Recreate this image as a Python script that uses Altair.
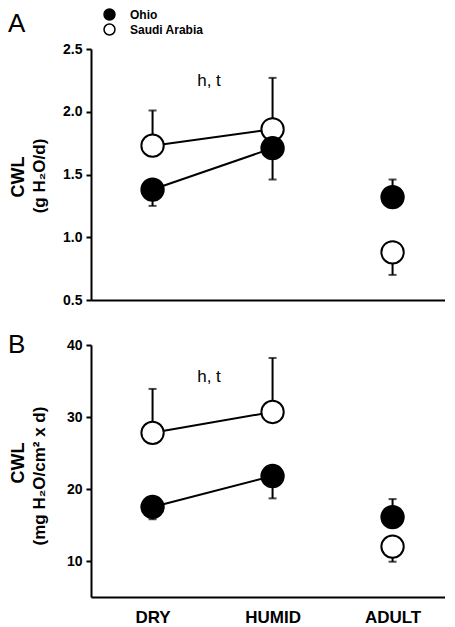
import altair as alt
import pandas as pd

categories = ["DRY", "HUMID", "ADULT"]
groups = ["Ohio", "Saudi Arabia"]
connected = ["DRY", "HUMID"]

# Panel A: CWL (g H2O/d)
a_ohio = [1.38, 1.71, 1.32]
a_ohio_err = [1.25, 1.46, 1.46]
a_saudi = [1.73, 1.86, 0.88]
a_saudi_err = [2.01, 2.27, 0.70]
a_domain = [0.5, 2.5]
a_ticks = [0.5, 1.0, 1.5, 2.0, 2.5]
a_titles = ["CWL", "(g H₂O/d)"]

# Panel B: CWL (mg H2O/cm2 x d)
b_ohio = [17.5, 21.8, 16.1]
b_ohio_err = [15.8, 18.7, 18.6]
b_saudi = [27.8, 30.7, 12.0]
b_saudi_err = [33.9, 38.2, 9.9]
b_domain = [5, 40]
b_ticks = [10, 20, 30, 40]
b_titles = ["CWL", "(mg H₂O/cm² x d)"]

annotation = "h, t"
panel_letters = ["A", "B"]

FONT = "Liberation Sans"
PANEL_W = 354


def make_frame(ohio, ohio_err, saudi, saudi_err):
    rows = []
    # Saudi first so that Ohio circles are drawn on top
    for g, vals, errs in [(groups[1], saudi, saudi_err), (groups[0], ohio, ohio_err)]:
        for c, v, e in zip(categories, vals, errs):
            rows.append({"cat": c, "group": g, "value": v, "err": e})
    return pd.DataFrame(rows)


def text_layer(txt, x, y, **kw):
    return alt.Chart(pd.DataFrame({"t": [txt]})).mark_text(
        font=FONT, color="black", **kw).encode(
        x=alt.value(x), y=alt.value(y), text="t:N")


def panel(df, domain, ticks, fmt, titles, letter, letter_y, title_ys,
          show_x_labels, show_legend, height):
    x = alt.X("cat:N", sort=categories,
              scale=alt.Scale(type="point", padding=0.475, align=0.54),
              axis=alt.Axis(title=None, labels=show_x_labels, ticks=False,
                            domainWidth=2, domainColor="black",
                            labelFontSize=17, labelFontWeight="bold",
                            labelFont=FONT, labelColor="black",
                            labelPadding=12, labelAngle=0))
    yscale = alt.Scale(domain=domain, nice=False, zero=False)
    y = alt.Y("value:Q", scale=yscale,
              axis=alt.Axis(title=None, values=ticks, format=fmt, grid=False,
                            tickSize=5, tickWidth=2, tickColor="black",
                            domainWidth=2, domainColor="black",
                            labelFontSize=14, labelFontWeight="bold",
                            labelFont=FONT, labelColor="black", labelPadding=4))
    base = alt.Chart(df)

    rules = base.mark_rule(color="black", strokeWidth=2).encode(
        x=x, y=y, y2="err:Q")
    caps = base.mark_tick(color="black", size=8, thickness=2).encode(
        x=x, y=alt.Y("err:Q", scale=yscale))
    lines = base.transform_filter(
        alt.FieldOneOfPredicate(field="cat", oneOf=connected)
    ).mark_line(color="black", strokeWidth=2).encode(
        x=x, y=y, detail="group:N")

    if show_legend:
        legend = alt.Legend(orient="none", legendX=12, legendY=-41, title=None,
                            symbolType="circle", symbolSize=120,
                            symbolStrokeColor="black", symbolStrokeWidth=1.5,
                            labelFontSize=12, labelFontWeight="bold",
                            labelFont=FONT, labelColor="black",
                            labelOffset=14, rowPadding=-2, padding=0)
    else:
        legend = None
    points = base.mark_point(filled=True, size=500, stroke="black",
                             strokeWidth=2, opacity=1).encode(
        x=x, y=y,
        fill=alt.Fill("group:N", sort=groups,
                      scale=alt.Scale(domain=groups, range=["black", "white"]),
                      legend=legend))

    ann = text_layer(annotation, 118, 32, fontSize=17, fontWeight="normal",
                     align="center", baseline="middle")
    let = text_layer(letter, -83, letter_y, fontSize=26, fontWeight="normal",
                     align="left", baseline="top")
    t1 = text_layer(titles[0], -72, title_ys[0], fontSize=18,
                    fontWeight="bold", angle=270, align="center",
                    baseline="middle")
    t2 = text_layer(titles[1], -51, title_ys[1], fontSize=17,
                    fontWeight="bold", angle=270, align="center",
                    baseline="middle")

    return alt.layer(rules, caps, lines, points, ann, let, t1, t2).properties(
        width=PANEL_W, height=height)


df_a = make_frame(a_ohio, a_ohio_err, a_saudi, a_saudi_err)
df_b = make_frame(b_ohio, b_ohio_err, b_saudi, b_saudi_err)

chart_a = panel(df_a, a_domain, a_ticks, ".1f", a_titles, panel_letters[0],
                -38, [128, 127], False, True, 251)
chart_b = panel(df_b, b_domain, b_ticks, "d", b_titles, panel_letters[1],
                -13, [118, 131], True, False, 252)

chart = alt.vconcat(chart_a, chart_b, spacing=45, bounds="flush").resolve_scale(
    x="independent", y="independent", fill="independent"
).configure_view(stroke=None).properties(padding=0)

chart.save("out.html", embed_options={"renderer": "svg", "actions": False})
